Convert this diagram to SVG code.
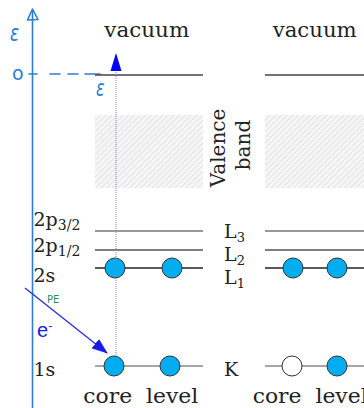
<svg xmlns="http://www.w3.org/2000/svg" width="364" height="408" viewBox="0 0 364 408">
<defs>
<pattern id="hatch" width="4" height="4" patternUnits="userSpaceOnUse" patternTransform="rotate(45)">
<rect width="4" height="4" fill="#f6f6f6"/>
<line x1="0" y1="0" x2="0" y2="4" stroke="#d6d6d6" stroke-width="1.2"/>
</pattern>
<marker id="ah" markerWidth="16" markerHeight="12" refX="15" refY="6" orient="auto" markerUnits="userSpaceOnUse">
<path d="M0,0 L16,6 L0,12 Z" fill="#1a1ae6"/>
</marker>
</defs>
<style>
.t{font-family:"DejaVu Serif",serif;fill:#222}
.lv{stroke-width:1.3;fill:none}
.el{fill:#00aeef;stroke:#333;stroke-width:1}
.ho{fill:#fff;stroke:#333;stroke-width:1}
.hb{stroke:#2a7fd4;fill:none;stroke-width:1.6;stroke-linecap:round;stroke-linejoin:round}
.hbt{font-family:"DejaVu Sans",sans-serif;fill:#2a7fd4}
.it{font-style:italic}
</style>

<g id="axis">
<line class="hb" x1="32.5" y1="11" x2="32.5" y2="408"/>
<path class="hb" d="M32.5,9 L27.5,20 L38,19.5 Z"/>
<text class="hbt it" font-size="17" transform="translate(10,41) scale(1,1.4)">ε</text>
<text class="hbt" x="12" y="80" font-size="19">o</text>
<path class="hb" d="M29,74 L37,74 M50,74 L60,74 M68,74 L78,74 M85,74 L100,74" stroke-width="1.4"/>
<text class="hbt it" font-size="16" transform="translate(96,96) scale(1,1.4)">ε</text>
</g>

<g id="left-column">
<text class="t" x="104.3" y="37.3" font-size="20" textLength="85" lengthAdjust="spacingAndGlyphs">vacuum</text>
<line class="lv" x1="95" y1="75" x2="203" y2="75" stroke="#444"/>
<rect x="95" y="115" width="108" height="73" fill="url(#hatch)"/>
<line class="lv" x1="95" y1="231" x2="203" y2="231" stroke="#777"/>
<line class="lv" x1="95" y1="250" x2="203" y2="250" stroke="#555"/>
<line class="lv" x1="95" y1="268" x2="203" y2="268" stroke="#222"/>
<line class="lv" x1="95" y1="366" x2="203" y2="366" stroke="#888"/>
<text class="t" x="33.5" y="226" font-size="19">2p<tspan font-size="14" dy="4">3/2</tspan></text>
<text class="t" x="33.5" y="252" font-size="19">2p<tspan font-size="14" dy="4">1/2</tspan></text>
<text class="t" x="33.5" y="282" font-size="19">2s</text>
<text class="t" x="33.5" y="376" font-size="19">1s</text>
<text class="t" x="83.3" y="403" font-size="20" textLength="115" lengthAdjust="spacingAndGlyphs" xml:space="preserve">core  level</text>
</g>

<g id="left-electrons">
<circle class="el" cx="115" cy="268" r="10"/>
<circle class="el" cx="172" cy="268" r="10"/>
<circle class="el" cx="114" cy="366" r="10"/>
<circle class="el" cx="170" cy="366" r="10"/>
</g>

<g id="valence-label">
<text class="t" font-size="20" text-anchor="middle" transform="translate(225,148) rotate(-90)">Valence</text>
<text class="t" font-size="20" text-anchor="middle" transform="translate(250,145) rotate(-90)">band</text>
</g>

<g id="right-column">
<text class="t" x="272.7" y="36.7" font-size="20" textLength="84" lengthAdjust="spacingAndGlyphs">vacuum</text>
<line class="lv" x1="265" y1="75" x2="364" y2="75" stroke="#444"/>
<rect x="265" y="115" width="99" height="73" fill="url(#hatch)"/>
<line class="lv" x1="265" y1="231" x2="364" y2="231" stroke="#777"/>
<line class="lv" x1="265" y1="250" x2="364" y2="250" stroke="#555"/>
<line class="lv" x1="265" y1="268" x2="364" y2="268" stroke="#222"/>
<line class="lv" x1="265" y1="366" x2="364" y2="366" stroke="#888"/>
<text class="t" x="224" y="238" font-size="19">L<tspan font-size="13" dy="4">3</tspan></text>
<text class="t" x="224" y="261" font-size="19">L<tspan font-size="13" dy="4">2</tspan></text>
<text class="t" x="224" y="284" font-size="19">L<tspan font-size="13" dy="4">1</tspan></text>
<text class="t" x="224" y="376" font-size="19">K</text>
<text class="t" x="252.7" y="403" font-size="20" textLength="115" lengthAdjust="spacingAndGlyphs" xml:space="preserve">core  level</text>
<circle class="el" cx="293" cy="268" r="10"/>
<circle class="el" cx="337" cy="268" r="10"/>
<circle class="ho" cx="292" cy="366" r="10"/>
<circle class="el" cx="337" cy="366" r="10"/>
</g>

<g id="connectors">
<line x1="116" y1="72" x2="116" y2="356" stroke="#7a7ae0" stroke-width="1" stroke-dasharray="1,1"/>
<path d="M116,53 L110.5,71 L121.5,71 Z" fill="#0000ff"/>
<line x1="25" y1="288" x2="107" y2="353" stroke="#2a2ae0" stroke-width="1.3" marker-end="url(#ah)"/>
<text x="47" y="303" font-family="DejaVu Sans,sans-serif" font-size="10" fill="#2e8b57">PE</text>
<text x="37" y="337" font-family="Liberation Sans,sans-serif" font-size="20" fill="#1a1ae6">e<tspan font-size="12" dy="-7">-</tspan></text>
</g>
</svg>
